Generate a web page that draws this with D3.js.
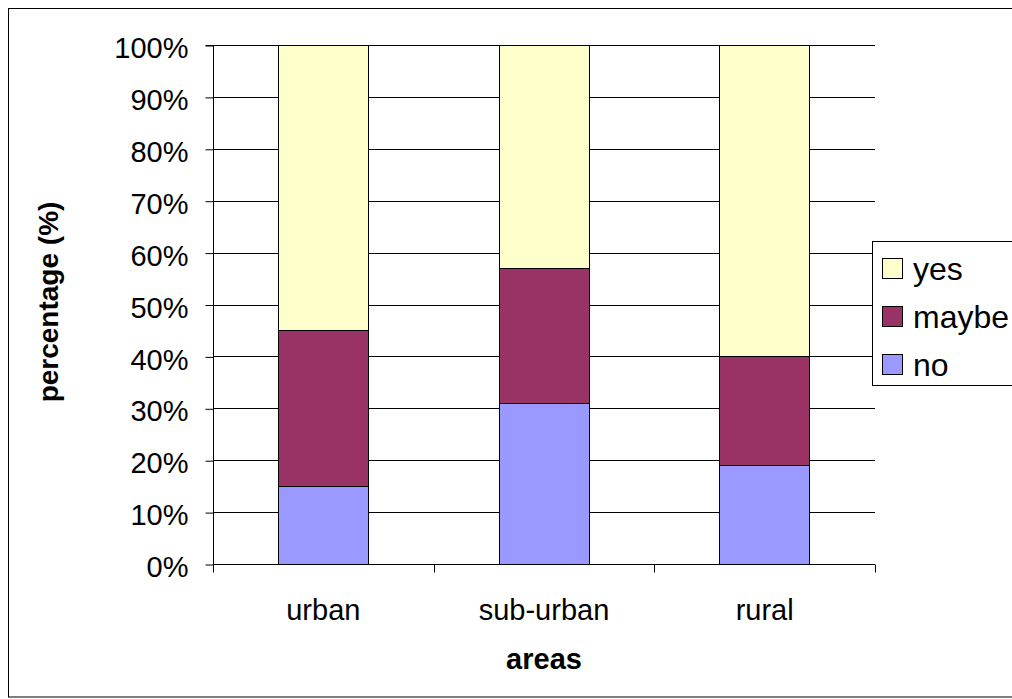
<!DOCTYPE html>
<html>
<head>
<meta charset="utf-8">
<script src="https://cdn.jsdelivr.net/npm/d3@7"></script>
<style>
  html, body { margin: 0; padding: 0; background: #fff; }
  svg { display: block; font-family: "Liberation Sans", Arial, sans-serif; }
</style>
</head>
<body>
<svg id="chart" width="1012" height="699"></svg>
<script>
// Survey answers by area, in percent
const areas = ["urban", "sub-urban", "rural"];
const noValues = [15, 31, 19];
const maybeValues = [30, 26, 21];
const yesValues = [55, 43, 60];
const seriesNames = ["no", "maybe", "yes"];
const seriesColors = ["#9999FF", "#993366", "#FFFFCC"];
const yTicks = [0, 10, 20, 30, 40, 50, 60, 70, 80, 90, 100];

const rows = areas.map((a, i) => ({ area: a, no: noValues[i], maybe: maybeValues[i], yes: yesValues[i] }));
const stacked = d3.stack().keys(seriesNames)(rows);

const svg = d3.select("#chart");
const FONT = "'Liberation Sans', Arial, sans-serif";

// outer chart frame
svg.append("rect")
  .attr("x", 8.5).attr("y", 8.5)
  .attr("width", 1012).attr("height", 688.5)
  .attr("fill", "#fff").attr("stroke", "#000").attr("stroke-width", 1);

const plot = { left: 213, right: 875, top: 45, bottom: 564 };

const x = d3.scaleBand().domain(areas).range([plot.left, plot.right]).paddingInner(0.59).paddingOuter(0.295);
const y = d3.scaleLinear().domain([0, 100]).range([plot.bottom, plot.top]);

// horizontal gridlines
svg.append("g")
  .selectAll("line")
  .data(yTicks.filter(t => t > 0))
  .join("line")
  .attr("x1", plot.left).attr("x2", plot.right)
  .attr("y1", d => Math.round(y(d)) + 0.5).attr("y2", d => Math.round(y(d)) + 0.5)
  .attr("stroke", "#000").attr("stroke-width", 1);

// stacked bars
svg.append("g")
  .selectAll("g")
  .data(stacked)
  .join("g")
  .attr("fill", (d, i) => seriesColors[i])
  .selectAll("rect")
  .data(d => d)
  .join("rect")
  .attr("x", d => Math.round(x(d.data.area)) + 0.5)
  .attr("width", Math.round(x.bandwidth()))
  .attr("y", d => Math.round(y(d[1])) + 0.5)
  .attr("height", d => Math.round(y(d[0])) - Math.round(y(d[1])))
  .attr("stroke", "#000").attr("stroke-width", 1);

// y axis
const yAxis = d3.axisLeft(y).tickValues(yTicks).tickFormat(d => d + "%").tickSize(8).tickPadding(17);
const gy = svg.append("g").attr("transform", `translate(${plot.left + 0.5},0.5)`).call(yAxis);
gy.attr("font-size", 29).attr("font-family", FONT);
gy.select(".domain").attr("d", `M-8,${plot.top}H0V${plot.bottom}`).attr("stroke", "#000");
gy.selectAll("line").attr("stroke", "#000");
gy.selectAll("text").attr("fill", "#000").attr("dy", "0.42em");

// x axis with boundary ticks between categories
const gx = svg.append("g").attr("transform", `translate(0,${plot.bottom + 0.5})`);
gx.append("line").attr("x1", plot.left).attr("x2", plot.right).attr("stroke", "#000");
gx.selectAll("line.tick")
  .data(d3.range(areas.length + 1))
  .join("line")
  .attr("class", "tick")
  .attr("x1", i => Math.round(plot.left + i * (plot.right - plot.left) / areas.length) + 0.5)
  .attr("x2", i => Math.round(plot.left + i * (plot.right - plot.left) / areas.length) + 0.5)
  .attr("y1", 0).attr("y2", 8)
  .attr("stroke", "#000");
gx.selectAll("text")
  .data(areas)
  .join("text")
  .attr("x", d => x(d) + x.bandwidth() / 2)
  .attr("y", 55)
  .attr("text-anchor", "middle")
  .attr("font-size", 29)
  .text(d => d);

// axis titles
svg.append("text")
  .attr("x", 544).attr("y", 669)
  .attr("text-anchor", "middle")
  .attr("font-size", 29).attr("font-weight", "bold")
  .text("areas");
svg.append("text")
  .attr("transform", `translate(58,302) rotate(-90)`)
  .attr("text-anchor", "middle")
  .attr("font-size", 28).attr("font-weight", "bold")
  .text("percentage (%)");

// legend
const legend = svg.append("g");
legend.append("rect")
  .attr("x", 872.5).attr("y", 241.5)
  .attr("width", 200).attr("height", 144)
  .attr("fill", "#fff").attr("stroke", "#000").attr("stroke-width", 1);
const legendOrder = ["yes", "maybe", "no"];
const li = legend.selectAll("g.item")
  .data(legendOrder)
  .join("g")
  .attr("class", "item")
  .attr("transform", (d, i) => `translate(0,${i * 48})`);
li.append("rect")
  .attr("x", 882.5).attr("y", 258.5)
  .attr("width", 20).attr("height", 20)
  .attr("fill", d => seriesColors[seriesNames.indexOf(d)])
  .attr("stroke", "#000");
li.append("text")
  .attr("x", 913).attr("y", 280)
  .attr("font-size", 32)
  .text(d => d);
</script>
</body>
</html>
